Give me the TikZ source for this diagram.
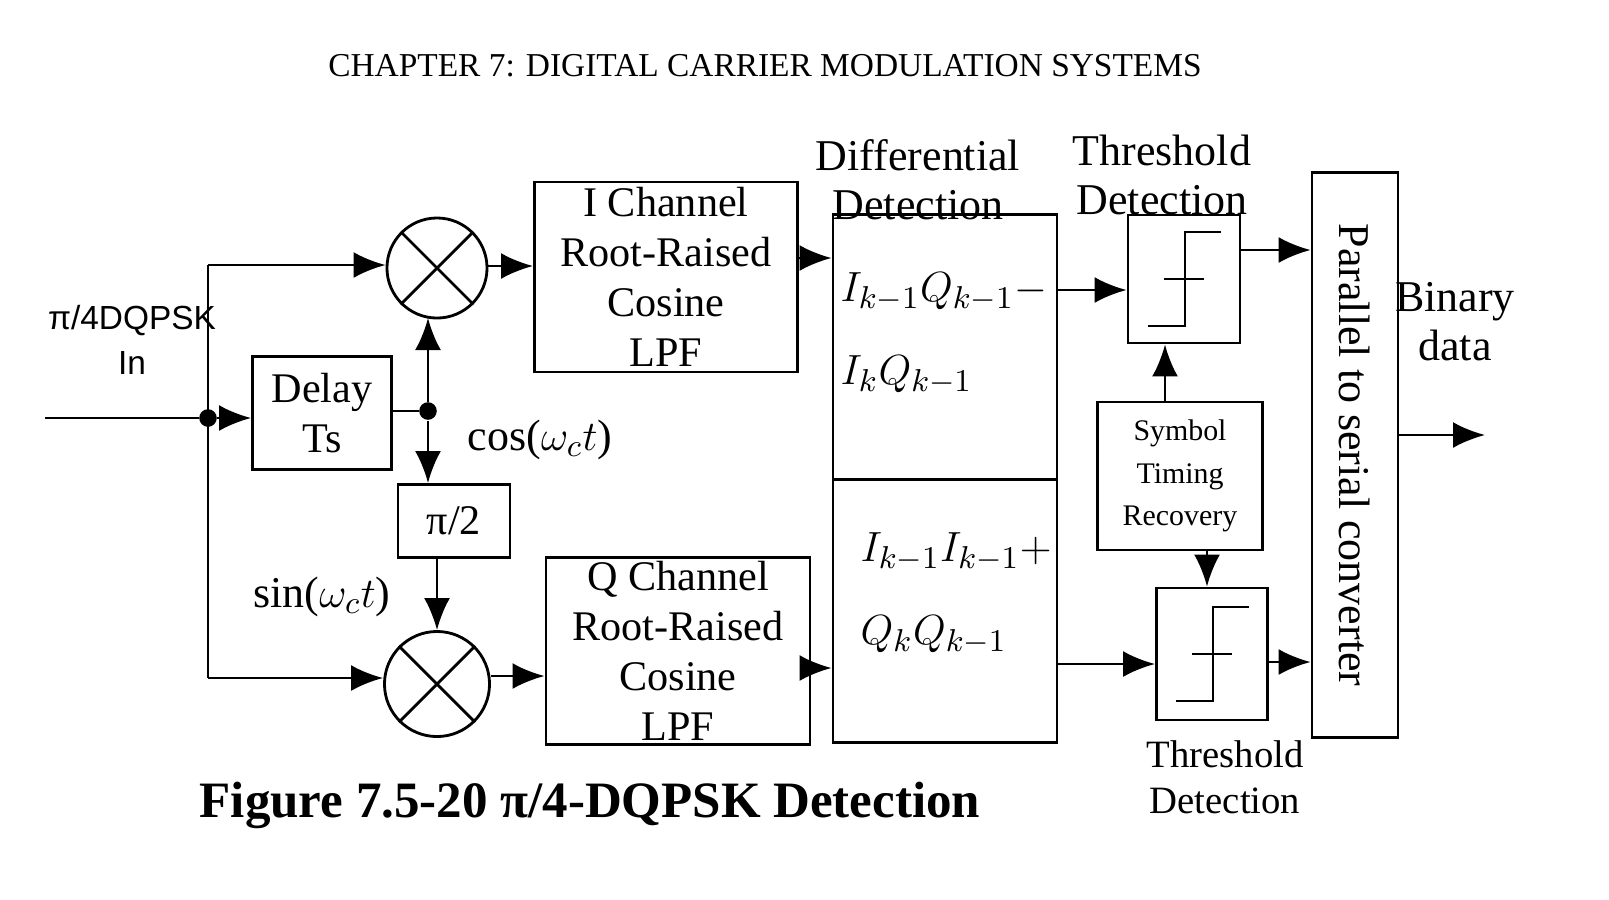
\documentclass[tikz,border=0pt]{standalone}
\usepackage{fontspec}
\setmainfont{Liberation Serif}
\newfontfamily\sansf{Liberation Sans}
\usetikzlibrary{arrows.meta}
\tikzset{
  blk/.style={draw, thick, align=center, inner sep=0pt, font=\fontsize{12}{14.2}\selectfont},
  mix/.style={draw, thick, circle, minimum size=1.0cm, inner sep=0pt},
  arr/.style={thick, -{Latex[length=3.2mm,width=2.6mm]}},
  dot/.style={circle, fill, inner sep=0pt, minimum size=5pt},
  lbl/.style={font=\fontsize{12.5}{14}\selectfont, align=center},
  eq/.style={font=\fontsize{13}{15}\selectfont, anchor=west, inner sep=0pt}
}
\newcommand{\stepsym}[1]{%
\draw[thick] ([shift={(-36,47)}]#1.center) -- ++(37,0) -- ++(0,-94) -- ++(36,0);
\draw[thick] ([shift={(-20,0)}]#1.center) -- ++(40,0);}
\begin{document}
\begin{tikzpicture}[x=0.01cm, y=-0.01cm]

\node[font=\fontsize{9.5}{11}\selectfont] (title) at (765,66) {CHAPTER 7: DIGITAL CARRIER MODULATION SYSTEMS};
\node[font=\fontsize{14.5}{16}\selectfont\bfseries] (caption) at (590,805) {Figure 7.5-20 π/4-DQPSK Detection};

% input side
\coordinate (in) at (45,418);
\node[dot] (split) at (208,418) {};
\coordinate (tl) at (208,265);
\coordinate (bl) at (208,678);
\node[lbl, font=\sansf\fontsize{9.5}{13}\selectfont] (inlbl) at (132,340) {π/4DQPSK\\In};

\node[blk, minimum width=1.39cm, minimum height=1.13cm] (delay) at (322,413) {Delay\\Ts};
\node[dot] (dsplit) at (428,411) {};
\node[blk, minimum width=1.12cm, minimum height=0.73cm] (shift) at (454,521) {π/2};

\node[mix] (m1) at (437,268) {};
\node[mix, minimum size=1.05cm] (m2) at (437,684) {};
\draw[thick] (m1.north west) -- (m1.south east) (m1.north east) -- (m1.south west);
\draw[thick] (m2.north west) -- (m2.south east) (m2.north east) -- (m2.south west);

\node[lbl] (cos) at (540,440) {cos($\omega_c t$)};
\node[lbl] (sin) at (322,597) {sin($\omega_c t$)};

\draw[thick] (in) -- (split);
\draw[thick] (tl) -- (bl);
\draw[arr] (split) -- (delay.west |- split);
\draw[arr] (tl) -- (m1.west |- tl);
\draw[arr] (bl) -- (m2.west |- bl);
\draw[thick] (delay.east |- dsplit) -- (dsplit);
\draw[arr] (dsplit) -- (428,318);
\draw[arr] (dsplit) -- (shift.north -| dsplit);
\draw[arr] (shift.south -| m2) -- (m2.north);

% filters
\node[blk, minimum width=2.63cm, minimum height=1.9cm] (ich) at (666,277) {I Channel\\Root-Raised\\Cosine\\LPF};
\node[blk, minimum width=2.64cm, minimum height=1.87cm] (qch) at (678,651) {Q Channel\\Root-Raised\\Cosine\\LPF};
\draw[arr] (m1.east |- 0,266) -- (ich.west |- 0,266);
\draw[arr] (m2.east |- 0,676) -- (qch.west |- 0,676);

% differential detection
\node[blk, minimum width=2.24cm, minimum height=2.65cm] (dtop) at (945,347) {};
\node[blk, minimum width=2.24cm, minimum height=2.63cm] (dbot) at (945,611) {};
\node[lbl] (dlbl) at (918,180) {Differential\\Detection};
\node[eq] (e1) at (840,292) {$I_{k-1}Q_{k-1}-$};
\node[eq] (e2) at (840,375) {$I_{k}Q_{k-1}$};
\node[eq] (e3) at (860,552) {$I_{k-1}I_{k-1}+$};
\node[eq] (e4) at (860,635) {$Q_{k}Q_{k-1}$};
\draw[arr] (ich.east |- 0,258) -- (dtop.west |- 0,258);
\draw[arr] (qch.east |- 0,668) -- (dbot.west |- 0,668);

% threshold detection
\node[blk, minimum width=1.12cm, minimum height=1.28cm] (th1) at (1184,279) {};
\node[blk, minimum width=1.11cm, minimum height=1.32cm] (th2) at (1212,654) {};
\stepsym{th1}
\stepsym{th2}
\node[lbl] (t1lbl) at (1162,175) {Threshold\\Detection};
\node[lbl, font=\fontsize{11}{13}\selectfont] (t2lbl) at (1225,777) {Threshold\\Detection};
\node[blk, minimum width=1.65cm, minimum height=1.48cm, font=\fontsize{8.5}{12}\selectfont] (str) at (1180,476) {Symbol\\Timing\\Recovery};
\draw[arr] (dtop.east |- 0,290) -- (th1.west |- 0,290);
\draw[arr] (dbot.east |- 0,664) -- (th2.west |- 0,664);
\draw[arr] ([shift={(-15,0)}]str.north) -- ([shift={(-19,0)}]th1.south);
\draw[arr] ([shift={(27,0)}]str.south) -- ([shift={(-5,0)}]th2.north);

% output
\node[blk, minimum width=0.86cm, minimum height=5.64cm] (p2s) at (1355,455) {};
\node[lbl, rotate=-90] (p2slbl) at (p2s) {Parallel to serial converter};
\draw[arr] (th1.east |- 0,250) -- (p2s.west |- 0,250);
\draw[arr] (th2.east |- 0,662) -- (p2s.west |- 0,662);
\coordinate (out) at (1485,435);
\draw[arr] (p2s.east |- out) -- (out);
\node[lbl] (outlbl) at (1455,322) {Binary\\data};

\pgfresetboundingbox
\useasboundingbox (0,0) rectangle (1609,899);
\end{tikzpicture}
\end{document}
